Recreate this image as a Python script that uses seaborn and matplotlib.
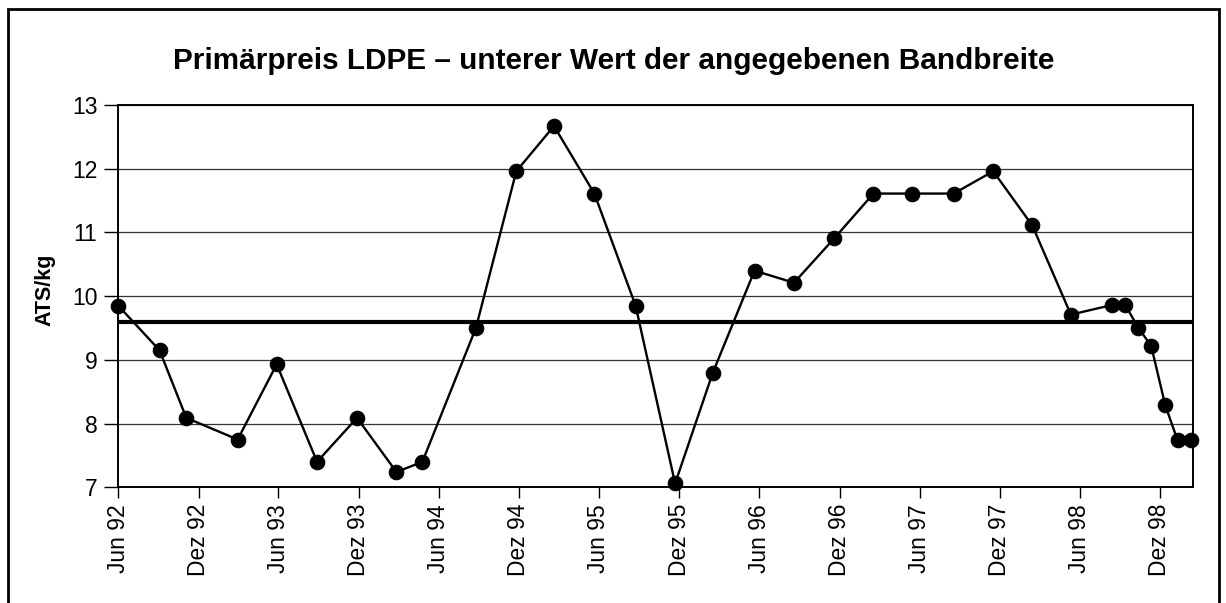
import matplotlib
matplotlib.use("Agg")
import matplotlib.pyplot as plt
import seaborn as sns
import pandas as pd
from matplotlib.patches import Rectangle

# ---- data ----
dates = [
    "1992-06-01", "1992-09-03", "1992-11-03", "1993-02-28", "1993-05-28",
    "1993-08-28", "1993-11-27", "1994-02-25", "1994-04-25", "1994-08-25",
    "1994-11-25", "1995-02-19", "1995-05-22", "1995-08-24", "1995-11-22",
    "1996-02-16", "1996-05-21", "1996-08-19", "1996-11-19", "1997-02-16",
    "1997-05-16", "1997-08-18", "1997-11-16", "1998-02-13", "1998-05-12",
    "1998-08-13", "1998-09-13", "1998-10-13", "1998-11-11", "1998-12-13",
    "1999-01-10", "1999-02-10",
]
prices = [
    9.85, 9.15, 8.09, 7.75, 8.93,
    7.40, 8.09, 7.24, 7.40, 9.50,
    11.96, 12.67, 11.61, 9.85, 7.06,
    8.80, 10.40, 10.21, 10.91, 11.61,
    11.61, 11.61, 11.96, 11.11, 9.71,
    9.86, 9.86, 9.50, 9.22, 8.29,
    7.74, 7.74,
]
mean_price = 9.6

tick_dates = [
    "1992-06-01", "1992-12-01", "1993-06-01", "1993-12-01", "1994-06-01",
    "1994-12-01", "1995-06-01", "1995-12-01", "1996-06-01", "1996-12-01",
    "1997-06-01", "1997-12-01", "1998-06-01", "1998-12-01",
]
tick_labels = [
    "Jun 92", "Dez 92", "Jun 93", "Dez 93", "Jun 94",
    "Dez 94", "Jun 95", "Dez 95", "Jun 96", "Dez 96",
    "Jun 97", "Dez 97", "Jun 98", "Dez 98",
]
y_ticks = [7, 8, 9, 10, 11, 12, 13]
title = "Primärpreis LDPE – unterer Wert der angegebenen Bandbreite"
y_label = "ATS/kg"

# ---- style ----
sns.set_style("ticks")
plt.rcParams['font.family'] = ['Liberation Sans', 'DejaVu Sans']
plt.rcParams.update({
    "text.color": "black", "axes.labelcolor": "black",
    "xtick.color": "black", "ytick.color": "black",
    "axes.edgecolor": "black",
})

W, H = 1226, 603
fig = plt.figure(figsize=(W / 100, H / 100), dpi=100)
fig.patch.set_facecolor("white")

ax_l, ax_r, ax_t, ax_b = 118.3, 1193.3, 105.0, 487.3
ax = fig.add_axes([ax_l / W, 1 - ax_b / H, (ax_r - ax_l) / W, (ax_b - ax_t) / H])

df = pd.DataFrame({"Datum": pd.to_datetime(dates), "Preis": prices})
sns.lineplot(data=df, x="Datum", y="Preis", ax=ax, color="black",
             linewidth=1.7, marker="o", markersize=10.5,
             markeredgecolor="black", markerfacecolor="black",
             clip_on=False, zorder=5)
ax.axhline(mean_price, color="black", linewidth=3.0, zorder=4)

ax.set_ylim(y_ticks[0], y_ticks[-1])
ax.set_yticks(y_ticks)
ax.yaxis.grid(True, color="#333333", linewidth=0.9)
ax.set_xlim(pd.Timestamp("1992-06-01"), pd.Timestamp("1999-02-15"))
ax.set_xticks(pd.to_datetime(tick_dates))
ax.set_xticklabels(tick_labels, rotation=90)
ax.tick_params(axis="x", length=8, width=1, pad=4, labelsize=16.5,
               colors="black", labelcolor="black")
ax.tick_params(axis="y", length=10, width=1, pad=5, labelsize=16.5,
               colors="black", labelcolor="black")
for s in ax.spines.values():
    s.set_color("black")
    s.set_linewidth(1.4)
ax.set_xlabel("")
ax.set_ylabel("")

fig.text(45 / W, 1 - 290 / H, y_label, rotation=90, ha="center", va="center",
         fontsize=15.5, fontweight="bold", color="black")
fig.text(614 / W, 1 - 61 / H, title, ha="center", va="center",
         fontsize=21.4, fontweight="bold", color="black")

fig.patches.append(Rectangle((8 / W, -0.02), (1219 - 8) / W, 1.02 - 9 / H,
                             transform=fig.transFigure, fill=False,
                             edgecolor="black", linewidth=2))

fig.savefig("out.png", dpi=100)
